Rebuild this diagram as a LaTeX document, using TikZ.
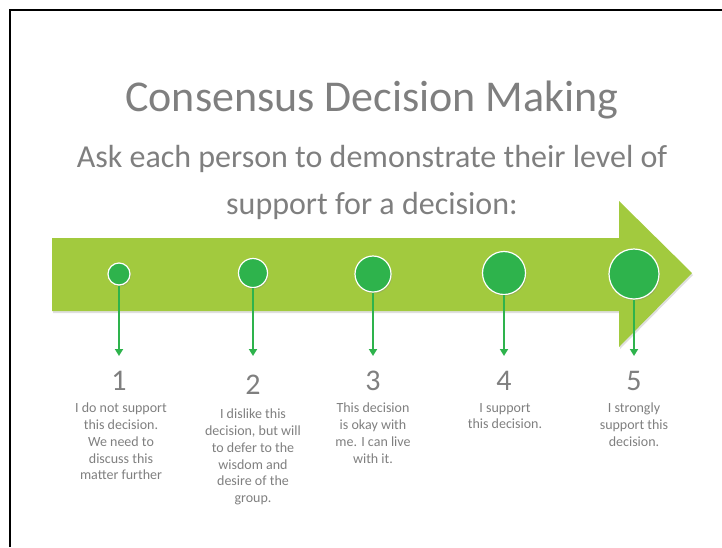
\documentclass[tikz,border=0pt]{standalone}
\usepackage{fontspec}
\setmainfont{Carlito}
\usepackage{xcolor}
\usetikzlibrary{arrows.meta,shadows}

\definecolor{bandgreen}{HTML}{A2CA3E}
\definecolor{dotgreen}{HTML}{2EB34C}
\definecolor{labelgray}{HTML}{7F7F7F}

\begin{document}
\begin{tikzpicture}[
    x=1pt, y=-1pt,
    font=\fontsize{14}{16.7}\selectfont,
    band/.style={fill=bandgreen, drop shadow={opacity=0.25, shadow xshift=1pt, shadow yshift=-2pt}},
    dot/.style={circle, fill=dotgreen, draw=white, line width=1.2pt, inner sep=0pt, drop shadow={opacity=0.3, shadow xshift=1pt, shadow yshift=-1.5pt}},
    drop/.style={-{Triangle[length=7pt, width=8pt]}, line width=2.4pt, draw=dotgreen},
    heading/.style={text=labelgray, font=\fontsize{44}{52}\selectfont, anchor=base},
    subheading/.style={text=labelgray, font=\fontsize{32}{38}\selectfont, anchor=base},
    level/.style={text=labelgray, font=\fontsize{30}{36}\selectfont, anchor=base, inner sep=0pt},
    note/.style={text=labelgray, align=center, anchor=north, inner sep=0pt}
]
    \useasboundingbox (0,0) rectangle (722,547);

    % Slide frame (left and top edges)
    \draw[line width=2pt] (10,547) -- (10,10) -- (722,10);

    % Title lines
    \node[heading] (title) at (372,111) {Consensus Decision Making};
    \node[subheading] (ask) at (372,167) {Ask each person to demonstrate their level of};
    \node[subheading] (ask2) at (372,214) {support for a decision:};

    % Big scale arrow
    \path[band] (52,238) -- (619,238) -- (619,201) -- (692,273) -- (619,347) -- (619,311) -- (52,311) -- cycle;

    % Dots growing along the scale
    \node[dot, minimum size=22pt] (c1) at (119,274) {};
    \node[dot, minimum size=29pt] (c2) at (253,273) {};
    \node[dot, minimum size=36pt] (c3) at (373,274) {};
    \node[dot, minimum size=43pt] (c4) at (504,273) {};
    \node[dot, minimum size=50pt] (c5) at (634,274) {};

    % Arrow ends
    \coordinate (t1) at (119,356);
    \coordinate (t2) at (253,356);
    \coordinate (t3) at (373,356);
    \coordinate (t4) at (504,356);
    \coordinate (t5) at (634,356);

    \draw[drop] (c1.south) -- (t1);
    \draw[drop] (c2.south) -- (t2);
    \draw[drop] (c3.south) -- (t3);
    \draw[drop] (c4.south) -- (t4);
    \draw[drop] (c5.south) -- (t5);

    % Level numbers
    \node[level] (n1) at (119,390) {1};
    \node[level] (n2) at (253,394) {2};
    \node[level] (n3) at (373,390) {3};
    \node[level] (n4) at (504,390) {4};
    \node[level] (n5) at (634,390) {5};

    % What each level means
    \node[note] (d1) at (121,403) {I do not support\\this decision.\\We need to\\discuss this\\matter further};
    \node[note] (d2) at (253,409) {I dislike this\\decision, but will\\to defer to the\\wisdom and\\desire of the\\group.};
    \node[note] (d3) at (373,403) {This decision\\is okay with\\me. I can live\\with it.};
    \node[note] (d4) at (505,403) {I support\\this decision.};
    \node[note] (d5) at (634,403) {I strongly\\support this\\decision.};

\end{tikzpicture}
\end{document}
